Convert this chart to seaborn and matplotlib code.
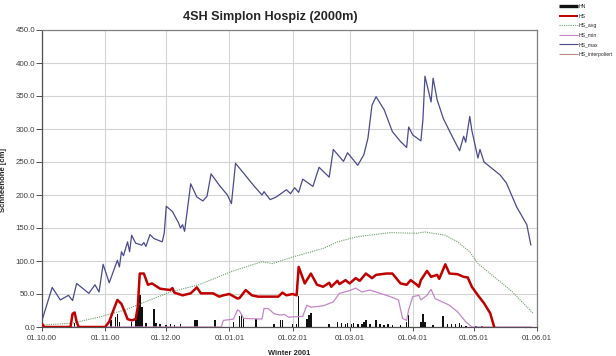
import numpy as np
import pandas as pd
import matplotlib
matplotlib.use("Agg")
import matplotlib.pyplot as plt
import matplotlib.dates as mdates
from matplotlib.ticker import FormatStrFormatter, MultipleLocator
from matplotlib.lines import Line2D
import seaborn as sns

# ---------------- data (season day 0 = 01.10.2000) ----------------
season_start = "2000-10-01"

hn_day = [0, 16, 34, 36, 37, 38, 44, 46, 47, 48, 49, 51, 55, 56, 58, 61, 63, 65, 68,
          75, 76, 85, 94, 97, 98, 99, 105, 114, 117, 118, 123, 125, 126, 130, 131, 132,
          141, 145, 147, 149, 150, 152, 153, 155, 157, 158, 159, 161, 164, 166, 168, 170,
          172, 176, 179, 180, 186, 187, 188, 192, 197, 199, 201, 203, 205, 206, 208, 213, 216]
hn_val = [5, 6, 10, 15, 20, 8, 8, 12, 33, 48, 30, 6, 28, 6, 4, 3, 5, 3, 5,
          10, 10, 10, 8, 16, 20, 14, 12, 4, 10, 10, 5, 5, 47, 12, 18, 21,
          5, 8, 6, 4, 6, 5, 6, 5, 4, 8, 10, 5, 10, 4, 3, 4,
          3, 3, 8, 18, 8, 19, 8, 3, 16, 4, 5, 4, 6, 3, 2, 2, 2]

hs_day = [0, 1, 14, 15, 16, 17, 18, 31, 33, 35, 37, 38, 39, 41, 42, 44, 46, 47, 48, 50,
          52, 54, 56, 58, 63, 64, 65, 69, 73, 76, 78, 84, 87, 89, 92, 96, 97, 100, 103,
          106, 116, 118, 120, 123, 125, 126, 129, 132, 135, 138, 141, 142, 145, 146, 149,
          151, 154, 156, 159, 162, 164, 169, 172, 176, 179, 181, 184, 185, 186, 189, 191,
          194, 195, 198, 200, 204, 207, 209, 211, 214, 217, 220, 222]
hs_val = [5, 0, 0, 20, 22, 8, 0, 0, 8, 25, 41, 38, 35, 20, 12, 10, 12, 30, 81, 81,
          64, 66, 62, 58, 56, 59, 52, 48, 51, 60, 51, 51, 46, 48, 50, 43, 44, 56, 48,
          46, 46, 52, 48, 50, 48, 91, 66, 81, 64, 61, 67, 61, 70, 65, 71,
          66, 74, 70, 81, 74, 79, 81, 81, 66, 64, 71, 64, 61, 71, 85, 76,
          79, 73, 95, 81, 80, 76, 75, 61, 48, 36, 21, 0]

avg_day = [0, 15, 28, 41, 53, 63, 77, 93, 108, 113, 123, 138, 145, 155, 171, 184, 188,
           198, 204, 210, 214, 222, 231, 241]
avg_val = [3, 6, 15, 26, 41, 53, 64, 84, 99, 96, 106, 119, 129, 137, 143, 142, 144,
           139, 129, 114, 96, 76, 53, 21]

min_day = [0, 88, 89, 94, 96, 97, 99, 108, 109, 111, 114, 117, 119, 121, 128, 130, 132,
           138, 143, 146, 151, 154, 157, 161, 166, 171, 175, 177, 179, 180, 182, 185, 186,
           189, 191, 193, 200, 204, 208, 211, 240]
min_val = [0, 0, 10, 12, 26, 24, 13, 12, 28, 28, 20, 18, 19, 15, 16, 33, 30,
           32, 38, 51, 55, 59, 53, 56, 51, 46, 41, 13, 10, 26, 46, 48, 41,
           48, 57, 43, 33, 23, 8, 0, 0]

max_day = [0, 5, 9, 13, 15, 17, 23, 26, 28, 30, 33, 37, 38, 39, 40, 42, 43, 44, 46, 49,
           50, 51, 53, 55, 59, 60, 61, 64, 67, 68, 69, 70, 73, 76, 79, 81, 83, 87, 91,
           93, 95, 99, 104, 108, 109, 112, 115, 120, 122, 124, 126, 128, 133, 136, 141,
           143, 148, 150, 155, 158, 160, 162, 164, 168, 172, 176, 179, 180, 182, 186,
           187, 188, 191, 192, 194, 197, 201, 205, 207, 208, 210, 211, 214, 215, 217,
           225, 228, 233, 238, 240]
max_val = [10, 60, 41, 48, 40, 66, 51, 64, 53, 95, 67, 101, 91, 114, 108, 129, 114, 139,
           127, 124, 128, 122, 140, 134, 129, 142, 183, 175, 158, 150, 155, 145, 217,
           197, 191, 198, 232, 215, 200, 187, 248, 233, 214, 200, 205, 193, 197, 208,
           202, 211, 204, 224, 213, 242, 227, 269, 251, 264, 245, 261, 286, 336, 349,
           329, 296, 281, 272, 303, 291, 282, 314, 380, 341, 377, 344, 316, 291, 267,
           289, 280, 319, 298, 256, 269, 250, 230, 218, 182, 155, 124]

legend_labels = ["HN", "HS", "HS_avg", "HS_min", "HS_max", "HS_interpoliert"]
title_text = "4SH Simplon Hospiz (2000m)"
y_label = "Schneeh\u00f6he [cm]"
x_label = "Winter 2001"

# ---------------- helpers ----------------
t0 = pd.Timestamp(season_start)
def to_dates(days):
    return t0 + pd.to_timedelta(np.asarray(days), unit="D")

# ---------------- figure ----------------
sns.set_style("white")
plt.rcParams["font.family"] = ["Liberation Sans", "DejaVu Sans"]

fig = plt.figure(figsize=(6.16, 3.56), dpi=100)
ax = fig.add_axes([42 / 616, 1 - 327 / 356, (537 - 42) / 616, (327 - 30) / 356])

c_hn = "#111111"
c_hs = "#C00000"
c_avg = "#6E9E6E"
c_min = "#C586C8"
c_max = "#4A4A8E"
c_int = "#C08888"

ax.bar(to_dates(hn_day), hn_val, width=0.8, color=c_hn, linewidth=0, zorder=3)

sns.lineplot(x=to_dates(avg_day), y=avg_val, ax=ax, color=c_avg, lw=0.8,
             linestyle=(0, (1, 1)), estimator=None, zorder=4)
sns.lineplot(x=to_dates(min_day), y=min_val, ax=ax, color=c_min, lw=0.9,
             estimator=None, zorder=4)
sns.lineplot(x=to_dates(max_day), y=max_val, ax=ax, color=c_max, lw=0.9,
             estimator=None, zorder=4)
sns.lineplot(x=to_dates(hs_day), y=hs_val, ax=ax, color=c_hs, lw=1.8,
             estimator=None, zorder=5)

ax.set_xlim(t0, pd.Timestamp("2001-06-01"))
ax.set_ylim(0, 450)
ax.xaxis.set_major_locator(mdates.MonthLocator())
ax.xaxis.set_major_formatter(mdates.DateFormatter("%d.%m.%y"))
ax.yaxis.set_major_locator(MultipleLocator(50))
ax.yaxis.set_major_formatter(FormatStrFormatter("%.1f"))

ax.grid(True, color="#d4d4d4", linewidth=0.8)
ax.set_axisbelow(True)
for side in ["left", "bottom"]:
    ax.spines[side].set_color("#505050")
    ax.spines[side].set_linewidth(0.9)
for side in ["top", "right"]:
    ax.spines[side].set_color("#808080")
    ax.spines[side].set_linewidth(0.9)

ax.tick_params(axis="y", which="major", length=4, width=0.7, color="#505050",
               labelsize=5.7, labelcolor="#404040", pad=1)
ax.tick_params(axis="x", which="major", length=3, width=0.7, color="#505050",
               labelsize=5.6, labelcolor="#404040", pad=3)
ax.tick_params(left=True, bottom=True)

ax.set_xlabel(x_label, fontsize=5.4, fontweight="bold", labelpad=3)
ax.set_ylabel(y_label, fontsize=5.6, fontweight="bold", labelpad=3)
ax.xaxis.set_label_coords((289 - 42) / (537 - 42), -(350 - 327) / (327 - 30))
ax.yaxis.set_label_coords(-(42 - 7) / (537 - 42), (327 - 180) / (327 - 30))

fig.text(270 / 616, 1 - 17 / 356, title_text, ha="center", va="center",
         fontsize=9.1, fontweight="bold")

handles = [
    Line2D([], [], color=c_hn, lw=2.4, solid_capstyle="butt"),
    Line2D([], [], color=c_hs, lw=1.4, solid_capstyle="butt"),
    Line2D([], [], color=c_avg, lw=0.8, linestyle=(0, (1, 1))),
    Line2D([], [], color=c_min, lw=0.8, solid_capstyle="butt"),
    Line2D([], [], color=c_max, lw=0.8, solid_capstyle="butt"),
    Line2D([], [], color=c_int, lw=0.8, solid_capstyle="butt"),
]
fig.legend(handles, legend_labels, loc="upper left",
           bbox_to_anchor=(559 / 616, 1 - 4 / 356), frameon=False,
           fontsize=3.7, handlelength=3.6, handletextpad=0.3, labelspacing=0.88,
           borderaxespad=0, borderpad=0)

fig.savefig("out.png", dpi=100, facecolor="white")
